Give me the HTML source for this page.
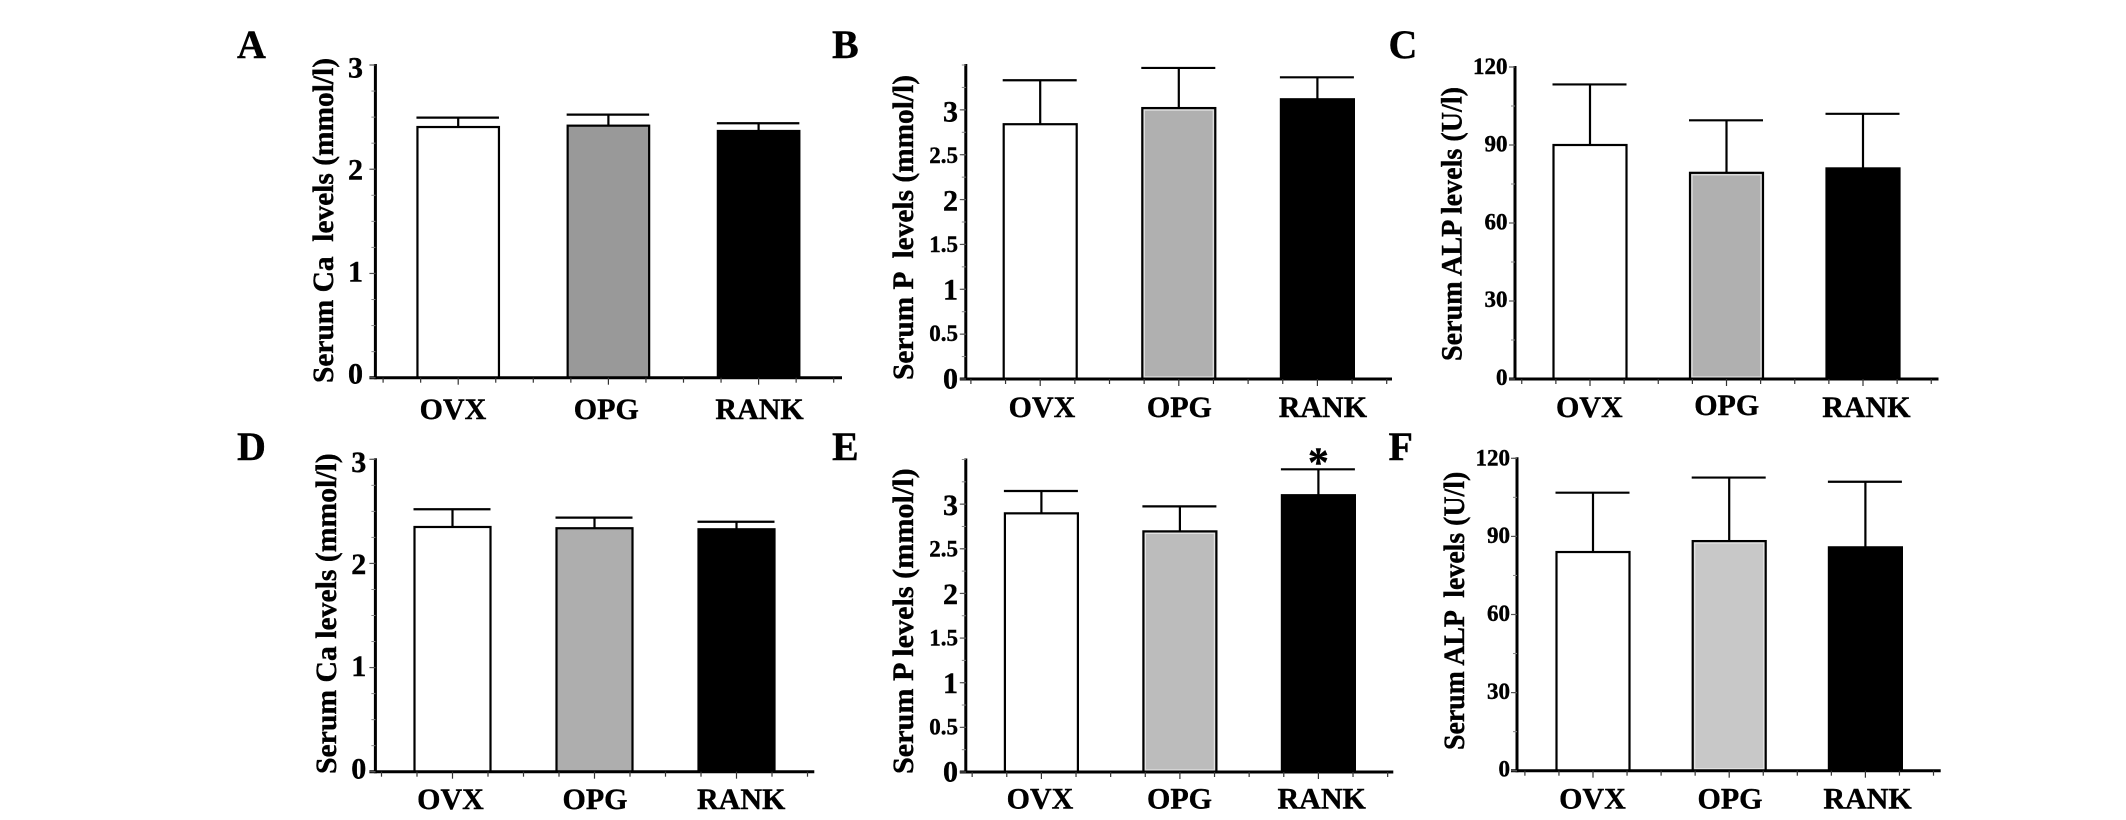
<!DOCTYPE html>
<html lang="en">
<head>
<meta charset="utf-8">
<title>Serum Ca, P and ALP levels</title>
<style>
html,body{margin:0;padding:0;background:#fff;width:2126px;height:820px;overflow:hidden}
svg{display:block}
text{font-family:"Liberation Serif",serif;font-weight:bold;fill:#000;stroke:#000;stroke-width:0.4px;white-space:pre}
</style>
</head>
<body>
<svg id="figure" xmlns="http://www.w3.org/2000/svg" width="2126" height="820" viewBox="0 0 2126 820"></svg>
<script>
const categories = ["OVX", "OPG", "RANK"];

const tickLabelsCa = ["0", "1", "2", "3"];
const tickLabelsP = ["0", "0.5", "1", "1.5", "2", "2.5", "3"];
const tickLabelsALP = ["0", "30", "60", "90", "120"];

const meansA = [2.405, 2.418, 2.367];
const capsA = [2.495, 2.524, 2.441];
const meansB = [2.84, 3.02, 3.118];
const capsB = [3.33, 3.467, 3.363];
const meansC = [90, 79.3, 81];
const capsC = [113.3, 99.5, 102];
const meansD = [2.35, 2.338, 2.328];
const capsD = [2.52, 2.44, 2.40];
const meansE = [2.897, 2.695, 3.10];
const capsE = [3.147, 2.975, 3.39];
const meansF = [84, 88.2, 85.8];
const capsF = [106.8, 112.6, 111];

const svg = document.getElementById("figure");
const NS = "http://www.w3.org/2000/svg";

function make(tag, attrs, parent) {
  const node = document.createElementNS(NS, tag);
  for (const k in attrs) node.setAttribute(k, attrs[k]);
  parent.appendChild(node);
  return node;
}

function drawPanel(p) {
  const g = make("g", {}, svg);
  
  

  const yScale = v => p.y0 - (v / p.yMax) * (p.y0 - p.yTop);
  const xScale = i => p.x0 + i * p.step;
  const labelY = v => p.labelBase - v * p.labelUnit;

  const letter = make("text", {x: p.letterX, y: p.letterY, "font-size": 40}, g);
  letter.textContent = p.letter;
  
  

  const title = make("text", {
    transform: "translate(" + p.titleX + "," + p.titleBottom + ") rotate(-90)",
    "font-size": 30, textLength: p.titleLen, lengthAdjust: "spacingAndGlyphs"
  }, g);
  title.textContent = p.title;
  
  

  // bars and error bars
  categories.forEach((cat, i) => {
    const cx = xScale(i);
    const top = yScale(p.means[i]);
    const capY = yScale(p.caps[i]);
    const half = p.barW / 2;

    const stem = make("line", {x1: cx, x2: cx, y1: top, y2: capY, stroke: "#000", "stroke-width": 2.2}, g);
    
    

    const cap = make("line", {x1: cx - half, x2: cx + half - 1, y1: capY, y2: capY, stroke: "#000", "stroke-width": 2.2}, g);
    
    

    const bar = make("rect", {
      x: cx - half + 1, y: top, width: p.barW - 2, height: p.y0 - top,
      fill: ["#fff", p.gray, "#000"][i], stroke: "#000", "stroke-width": 2.2
    }, g);
    
    

    if (i === 1 && p.innerEdge) {
      const edge = make("rect", {
        x: cx - half + 3, y: top + 2, width: p.barW - 6, height: p.y0 - top - 4,
        fill: "none", stroke: "#e4e4e4", "stroke-width": 1.2
      }, g);
      
      
    }

    const lab = make("text", {
      x: cx + p.labelOffset[i],
      y: p.catY + (p.catNudge ? p.catNudge[i] : 0),
      "font-size": 30, "text-anchor": "middle"
    }, g);
    lab.textContent = cat;
    
    
  });

  // y axis
  const yAxis = make("line", {x1: p.axisX, x2: p.axisX, y1: yScale(p.yMax) - 1, y2: p.y0 + 1.5, stroke: "#000", "stroke-width": 3}, g);
  
  

  // x axis
  const xAxis = make("line", {x1: p.axisX - 6, x2: p.axisEnd, y1: p.y0, y2: p.y0, stroke: "#000", "stroke-width": 3}, g);
  
  

  // x ticks
  for (let k = -2; k <= 10; k++) {
    const tx = p.x0 + k * p.step / 4;
    const major = k % 4 === 0;
    const t = make("line", {x1: tx, x2: tx, y1: p.y0, y2: p.y0 + (major ? 7 : 5), stroke: "#333", "stroke-width": 1.2}, g);
    
    
  }

  // y minor ticks
  for (let v = 0; v <= p.yMax + 1e-6; v += p.minorStep) {
    const mt = make("line", {x1: p.axisX - 4, x2: p.axisX, y1: yScale(v), y2: yScale(v), stroke: "#888", "stroke-width": 1}, g);
    
    
  }

  // y tick labels and major ticks
  p.ticks.forEach(label => {
    const v = parseFloat(label);
    const small = p.allSmall || label.indexOf(".") >= 0;
    const mj = make("line", {x1: p.axisX - 6, x2: p.axisX, y1: yScale(v), y2: yScale(v), stroke: "#555", "stroke-width": 1.2}, g);
    
    
    const tl = make("text", {
      x: p.labelRight, y: labelY(v) - (small && !p.allSmall ? 3 : 0),
      "font-size": small ? 23 : 30, "text-anchor": "end"
    }, g);
    tl.textContent = label;
    
    
  });

  if (p.starIndex !== undefined) {
    const star = make("text", {
      x: xScale(p.starIndex), y: yScale(p.caps[p.starIndex]) + 7,
      "font-size": 42, "text-anchor": "middle"
    }, g);
    star.textContent = "*";
    
    
  }
}

drawPanel({letter: "A", letterX: 237, letterY: 58, title: "Serum Ca  levels (mmol/l)", titleX: 333, titleBottom: 383, titleLen: 325,
  means: meansA, caps: capsA, ticks: tickLabelsCa, yMax: 3, minorStep: 0.25, y0: 377.7, yTop: 65, axisX: 375.4, axisEnd: 842,
  x0: 458.2, step: 150.2, barW: 83.5, gray: "#999999", labelRight: 363, labelBase: 383.3, labelUnit: 102,
  labelOffset: [-5.2, -2.1, 1], catY: 419});

drawPanel({letter: "B", letterX: 832, letterY: 58, title: "Serum P  levels (mmol/l)", titleX: 913, titleBottom: 380, titleLen: 305,
  means: meansB, caps: capsB, ticks: tickLabelsP, yMax: 3.5, minorStep: 0.25, y0: 379, yTop: 65, axisX: 965.8, axisEnd: 1392,
  x0: 1040.2, step: 138.6, barW: 75, gray: "#b0b0b0", innerEdge: true, labelRight: 958, labelBase: 388.3, labelUnit: 88.9,
  labelOffset: [1.8, 0.6, 5.5], catY: 417});

drawPanel({letter: "C", letterX: 1388.5, letterY: 58, title: "Serum ALP levels (U/l)", titleX: 1461.5, titleBottom: 361, titleLen: 274,
  means: meansC, caps: capsC, ticks: tickLabelsALP, allSmall: true, yMax: 120, minorStep: 15, y0: 379, yTop: 67, axisX: 1515, axisEnd: 1938.5,
  x0: 1590, step: 136.5, barW: 75, gray: "#b0b0b0", innerEdge: true, labelRight: 1507.5, labelBase: 385, labelUnit: 2.592,
  labelOffset: [-0.7, 0.2, 3.4], catY: 417, catNudge: [0, -2, 0]});

drawPanel({letter: "D", letterX: 237, letterY: 460, title: "Serum Ca levels (mmol/l)", titleX: 335.9, titleBottom: 774, titleLen: 320.7,
  means: meansD, caps: capsD, ticks: tickLabelsCa, yMax: 3, minorStep: 0.25, y0: 771.7, yTop: 459.3, axisX: 375.4, axisEnd: 814.3,
  x0: 452.5, step: 142, barW: 78, gray: "#aeaeae", labelRight: 366.3, labelBase: 778.3, labelUnit: 102.1,
  labelOffset: [-2, 0.5, 4.7], catY: 809});

drawPanel({letter: "E", letterX: 832, letterY: 460, title: "Serum P levels (mmol/l)", titleX: 913, titleBottom: 774, titleLen: 305.7,
  means: meansE, caps: capsE, ticks: tickLabelsP, yMax: 3.5, minorStep: 0.25, y0: 772, yTop: 459.5, axisX: 965.8, axisEnd: 1393.3,
  x0: 1041.4, step: 138.5, barW: 75, gray: "#bcbcbc", innerEdge: true, labelRight: 958, labelBase: 781.7, labelUnit: 88.9,
  labelOffset: [-1.4, -0.4, 3.3], catY: 808.3, starIndex: 2});

drawPanel({letter: "F", letterX: 1388.5, letterY: 460, title: "Serum ALP  levels (U/l)", titleX: 1464.2, titleBottom: 750, titleLen: 278.3,
  means: meansF, caps: capsF, ticks: tickLabelsALP, allSmall: true, yMax: 120, minorStep: 15, y0: 770.7, yTop: 458.3, axisX: 1517, axisEnd: 1940.7,
  x0: 1593, step: 136.2, barW: 75, gray: "#c8c8c8", innerEdge: true, labelRight: 1510, labelBase: 776.7, labelUnit: 2.595,
  labelOffset: [-0.6, 0.8, 2.2], catY: 808.3});
</script>
</body>
</html>
